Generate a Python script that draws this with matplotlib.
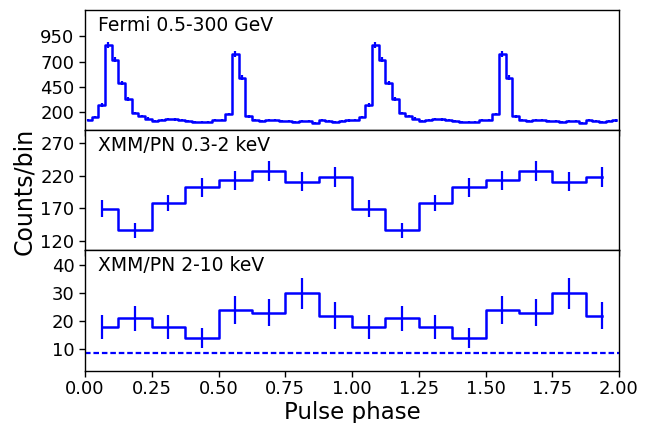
import numpy as np
import matplotlib
matplotlib.use("Agg")
import matplotlib.pyplot as plt

# Fermi-LAT 0.5-300 GeV folded profile, one rotation (40 bins)
fermi_counts = [122, 150, 270, 860, 720, 490, 328, 190, 162, 135,
                115, 125, 130, 127, 120, 112, 105, 100, 105, 120,
                125, 180, 775, 540, 157, 125, 110, 125, 122, 113,
                107, 97, 107, 113, 95, 123, 110, 103, 107, 117]
fermi_err = [11, 12, 16, 29, 27, 22, 18, 14, 13, 12,
             11, 11, 11, 11, 11, 11, 10, 10, 10, 11,
             11, 13, 28, 23, 13, 11, 10, 11, 11, 11,
             10, 10, 10, 11, 10, 11, 10, 10, 10, 11]

# XMM-Newton EPIC-pn soft band 0.3-2 keV, one rotation (8 bins)
soft_counts = [169, 136, 178, 202, 213, 227, 211, 218]
soft_err = [13, 12, 13, 14, 15, 15, 15, 15]

# XMM-Newton EPIC-pn hard band 2-10 keV, one rotation (8 bins)
hard_counts = [18, 21, 18, 14, 24, 23, 30, 22]
hard_err = [4.2, 4.6, 4.2, 3.7, 4.9, 4.8, 5.5, 4.7]
hard_background = 8.6

n_cycles = 2
fermi_y = fermi_counts * n_cycles
fermi_e = fermi_err * n_cycles
soft_y = soft_counts * n_cycles
soft_e = soft_err * n_cycles
hard_y = hard_counts * n_cycles
hard_e = hard_err * n_cycles

def bin_centers(nbins):
    w = 1.0 / nbins
    return np.arange(nbins * n_cycles) * w + w / 2

fermi_x = bin_centers(len(fermi_counts))
xmm_x = bin_centers(len(soft_counts))

color = "#0000ff"
fig = plt.figure(figsize=(6.52, 4.23), dpi=100)
left, right = 85 / 652, 619 / 652
top, bottom = 1 - 10 / 423, 1 - 370.7 / 423
h = (top - bottom) / 3
axes = [fig.add_axes([left, top - h * (i + 1), right - left, h]) for i in range(3)]
ax1, ax2, ax3 = axes

kw = dict(color=color, drawstyle="steps-mid", lw=1.8, elinewidth=1.6, capsize=0)
ax1.errorbar(fermi_x, fermi_y, yerr=fermi_e, **kw)
ax2.errorbar(xmm_x, soft_y, yerr=soft_e, **kw)
ax3.errorbar(xmm_x, hard_y, yerr=hard_e, **kw)
ax3.axhline(hard_background, color=color, lw=1.6, ls=(0, (2.5, 1.3)))

ax1.set_ylim(20, 1210)
ax1.set_yticks([200, 450, 700, 950])
ax2.set_ylim(105, 290)
ax2.set_yticks([120, 170, 220, 270])
ax3.set_ylim(2.3, 45.3)
ax3.set_yticks([10, 20, 30, 40])

labels = ["Fermi 0.5-300 GeV", "XMM/PN 0.3-2 keV", "XMM/PN 2-10 keV"]
for ax, lab in zip(axes, labels):
    ax.set_xlim(0, 2)
    ax.set_xticks([0, 0.25, 0.5, 0.75, 1.0, 1.25, 1.5, 1.75, 2.0])
    ax.tick_params(labelsize=13, width=1.0, length=4)
    ax.tick_params(axis="x", pad=2.5)
    for sp in ax.spines.values():
        sp.set_linewidth(1.0)
    ax.text(0.024, 0.95, lab, transform=ax.transAxes, fontsize=13.5,
            ha="left", va="top")
for ax in (ax1, ax2):
    ax.tick_params(labelbottom=False)
ax3.set_xticklabels(["0.00", "0.25", "0.50", "0.75", "1.00",
                     "1.25", "1.50", "1.75", "2.00"])

fig.text((left + right) / 2, 1 - 418.5 / 423, "Pulse phase", fontsize=16.5,
         ha="center", va="baseline")
fig.text(24 / 652, 1 - 191.7 / 423, "Counts/bin", fontsize=17,
         rotation=90, ha="center", va="center")

fig.savefig("out.png", dpi=100)
